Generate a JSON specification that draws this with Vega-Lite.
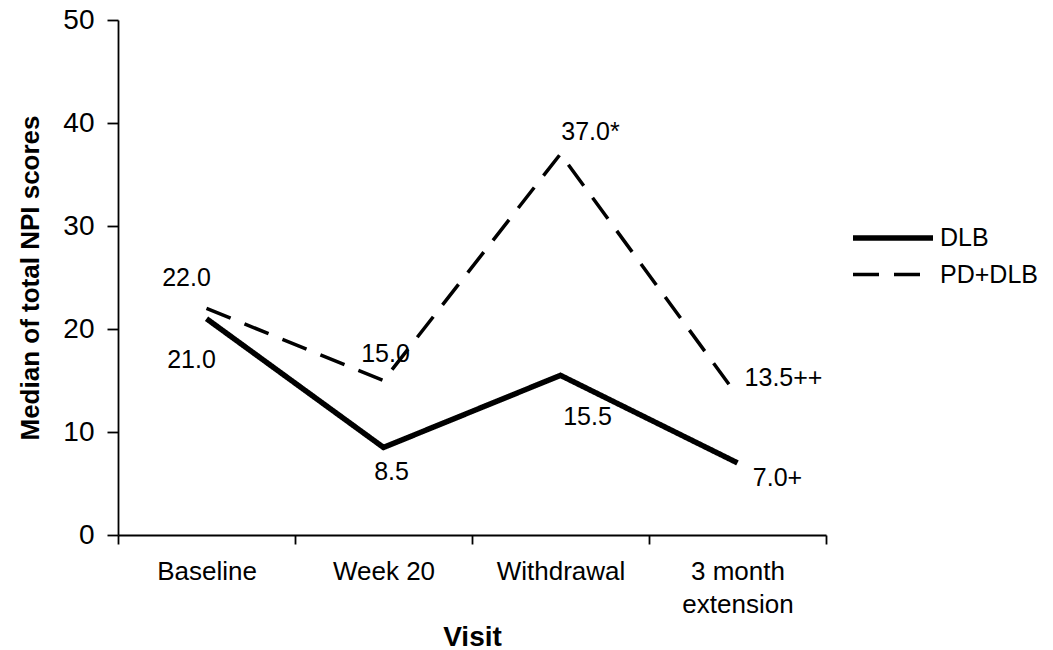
{
  "$schema": "https://vega.github.io/schema/vega-lite/v6.json",
  "width": 708,
  "height": 515,
  "autosize": "none",
  "padding": {"left": 118, "top": 20, "right": 227, "bottom": 115},
  "background": "white",
  "config": {
    "font": "Liberation Sans",
    "view": {"stroke": null},
    "axis": {"domainColor": "black", "tickColor": "black", "labelColor": "black", "titleColor": "black", "grid": false, "domainWidth": 1.8, "tickWidth": 1.8}
  },
  "data": {"values": [
    {"visit": "Baseline", "series": "DLB", "value": 21.0, "label": "21.0"},
    {"visit": "Week 20", "series": "DLB", "value": 8.5, "label": "8.5"},
    {"visit": "Withdrawal", "series": "DLB", "value": 15.5, "label": "15.5"},
    {"visit": "3 month extension", "series": "DLB", "value": 7.0, "label": "7.0+"},
    {"visit": "Baseline", "series": "PD+DLB", "value": 22.0, "label": "22.0"},
    {"visit": "Week 20", "series": "PD+DLB", "value": 15.0, "label": "15.0"},
    {"visit": "Withdrawal", "series": "PD+DLB", "value": 37.0, "label": "37.0*"},
    {"visit": "3 month extension", "series": "PD+DLB", "value": 13.5, "label": "13.5++"}
  ]},
  "encoding": {
    "x": {"field": "visit", "type": "nominal", "sort": ["Baseline", "Week 20", "Withdrawal", "3 month extension"],
      "scale": {"type": "band", "paddingInner": 0, "paddingOuter": 0},
      "axis": {"title": "Visit", "titleFontSize": 28, "titleFontWeight": "bold", "titlePadding": 6,
        "labelFontSize": 26, "labelAngle": 0, "labelPadding": 14, "tickSize": 9, "tickBand": "extent",
        "labelExpr": "datum.value == '3 month extension' ? ['3 month', 'extension'] : datum.value", "labelLineHeight": 33}},
    "y": {"field": "value", "type": "quantitative", "scale": {"domain": [0, 50]},
      "axis": {"title": "Median of total NPI scores", "titleFontSize": 26, "titleFontWeight": "bold", "titlePadding": 19,
        "labelFontSize": 28, "values": [0, 10, 20, 30, 40, 50], "tickSize": 11, "labelPadding": 13}}
  },
  "layer": [
    {
      "mark": {"type": "line", "color": "black"},
      "encoding": {
        "detail": {"field": "series"},
        "strokeDash": {"field": "series", "type": "nominal", "scale": {"domain": ["DLB", "PD+DLB"], "range": [[1, 0], [26, 15]]},
          "legend": {"title": null, "orient": "none", "legendX": 732, "legendY": 205, "symbolType": "M-1,0H7", "symbolSize": 400,
            "symbolStrokeColor": "black", "labelFontSize": 25, "labelColor": "black", "rowPadding": 11, "labelOffset": 64}},
        "strokeWidth": {"field": "series", "type": "nominal", "scale": {"domain": ["DLB", "PD+DLB"], "range": [5.5, 3.5]}}
      }
    },
    {"transform": [{"filter": "datum.label == '21.0'"}], "mark": {"type": "text", "fontSize": 25, "dx": -15, "dy": 41}, "encoding": {"text": {"field": "label"}}},
    {"transform": [{"filter": "datum.label == '22.0'"}], "mark": {"type": "text", "fontSize": 25, "dx": -20, "dy": -30}, "encoding": {"text": {"field": "label"}}},
    {"transform": [{"filter": "datum.label == '8.5'"}], "mark": {"type": "text", "fontSize": 25, "dx": 8, "dy": 25}, "encoding": {"text": {"field": "label"}}},
    {"transform": [{"filter": "datum.label == '15.0'"}], "mark": {"type": "text", "fontSize": 25, "dx": 2, "dy": -27}, "encoding": {"text": {"field": "label"}}},
    {"transform": [{"filter": "datum.label == '15.5'"}], "mark": {"type": "text", "fontSize": 25, "dx": 27, "dy": 42}, "encoding": {"text": {"field": "label"}}},
    {"transform": [{"filter": "datum.label == '37.0*'"}], "mark": {"type": "text", "fontSize": 25, "dx": 30, "dy": -22}, "encoding": {"text": {"field": "label"}}},
    {"transform": [{"filter": "datum.label == '7.0+'"}], "mark": {"type": "text", "fontSize": 25, "dx": 40, "dy": 15}, "encoding": {"text": {"field": "label"}}},
    {"transform": [{"filter": "datum.label == '13.5++'"}], "mark": {"type": "text", "fontSize": 25, "dx": 46, "dy": -18}, "encoding": {"text": {"field": "label"}}}
  ]
}
